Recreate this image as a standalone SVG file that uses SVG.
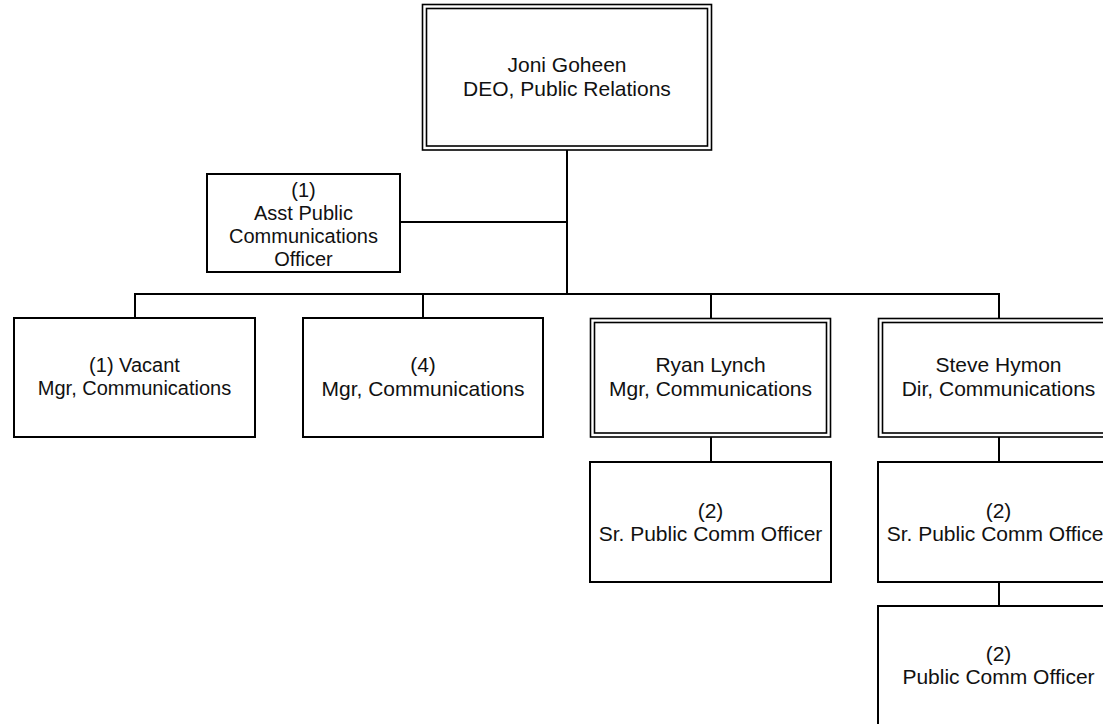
<svg xmlns="http://www.w3.org/2000/svg" width="1103" height="724" viewBox="0 0 1103 724">
<style>
  .box { fill: #ffffff; stroke: #000000; stroke-width: 2; }
  .dbl { fill: none; stroke: #000000; stroke-width: 1.6; }
  .conn { fill: none; stroke: #000000; stroke-width: 2; }
  text { font-family: "Liberation Sans", Arial, sans-serif; font-size: 21px; fill: #111111; text-anchor: middle; }
  .s20 { font-size: 20px; }
</style>
<rect x="0" y="0" width="1103" height="724" fill="#ffffff"/>
<g id="connectors">
  <path class="conn" d="M567,150 V294"/>
  <path class="conn" d="M400,222 H567"/>
  <path class="conn" d="M135,318 V294 H999 V318"/>
  <path class="conn" d="M423,294 V318"/>
  <path class="conn" d="M711,294 V318"/>
  <path class="conn" d="M711,437 V462"/>
  <path class="conn" d="M999,437 V462"/>
  <path class="conn" d="M999,582 V606"/>
</g>
<g id="node-joni">
  <rect class="dbl" x="422.5" y="4.5" width="289" height="145.5" fill="#ffffff"/>
  <rect class="dbl" x="426.5" y="8.5" width="281" height="137.5"/>
  <text x="567" y="72">Joni Goheen</text>
  <text x="567" y="96">DEO, Public Relations</text>
</g>
<g id="node-asst">
  <rect class="box" x="207" y="174" width="193" height="98"/>
  <text class="s20" x="303.5" y="197">(1)</text>
  <text class="s20" x="303.5" y="220">Asst Public</text>
  <text class="s20" x="303.5" y="243">Communications</text>
  <text class="s20" x="303.5" y="266">Officer</text>
</g>
<g id="node-vacant">
  <rect class="box" x="14" y="318" width="241" height="119"/>
  <text class="s20" x="134.5" y="372">(1) Vacant</text>
  <text class="s20" x="134.5" y="395">Mgr, Communications</text>
</g>
<g id="node-mgr4">
  <rect class="box" x="303" y="318" width="240" height="119"/>
  <text x="423" y="372">(4)</text>
  <text x="423" y="396">Mgr, Communications</text>
</g>
<g id="node-ryan">
  <rect class="dbl" x="590.5" y="318.5" width="240" height="118.5" fill="#ffffff"/>
  <rect class="dbl" x="594.5" y="322.5" width="232" height="110.5"/>
  <text x="710.5" y="372">Ryan Lynch</text>
  <text x="710.5" y="396">Mgr, Communications</text>
</g>
<g id="node-steve">
  <rect class="dbl" x="878.5" y="318.5" width="240" height="118.5" fill="#ffffff"/>
  <rect class="dbl" x="882.5" y="322.5" width="232" height="110.5"/>
  <text x="998.5" y="372">Steve Hymon</text>
  <text x="998.5" y="396">Dir, Communications</text>
</g>
<g id="node-ryan-sr">
  <rect class="box" x="590" y="462" width="241" height="120"/>
  <text x="710.5" y="518">(2)</text>
  <text x="710.5" y="541">Sr. Public Comm Officer</text>
</g>
<g id="node-steve-sr">
  <rect class="box" x="878" y="462" width="241" height="120"/>
  <text x="998.5" y="518">(2)</text>
  <text x="998.5" y="541">Sr. Public Comm Officer</text>
</g>
<g id="node-public">
  <rect class="box" x="878" y="606" width="241" height="120"/>
  <text x="998.5" y="661">(2)</text>
  <text x="998.5" y="684">Public Comm Officer</text>
</g>
</svg>
